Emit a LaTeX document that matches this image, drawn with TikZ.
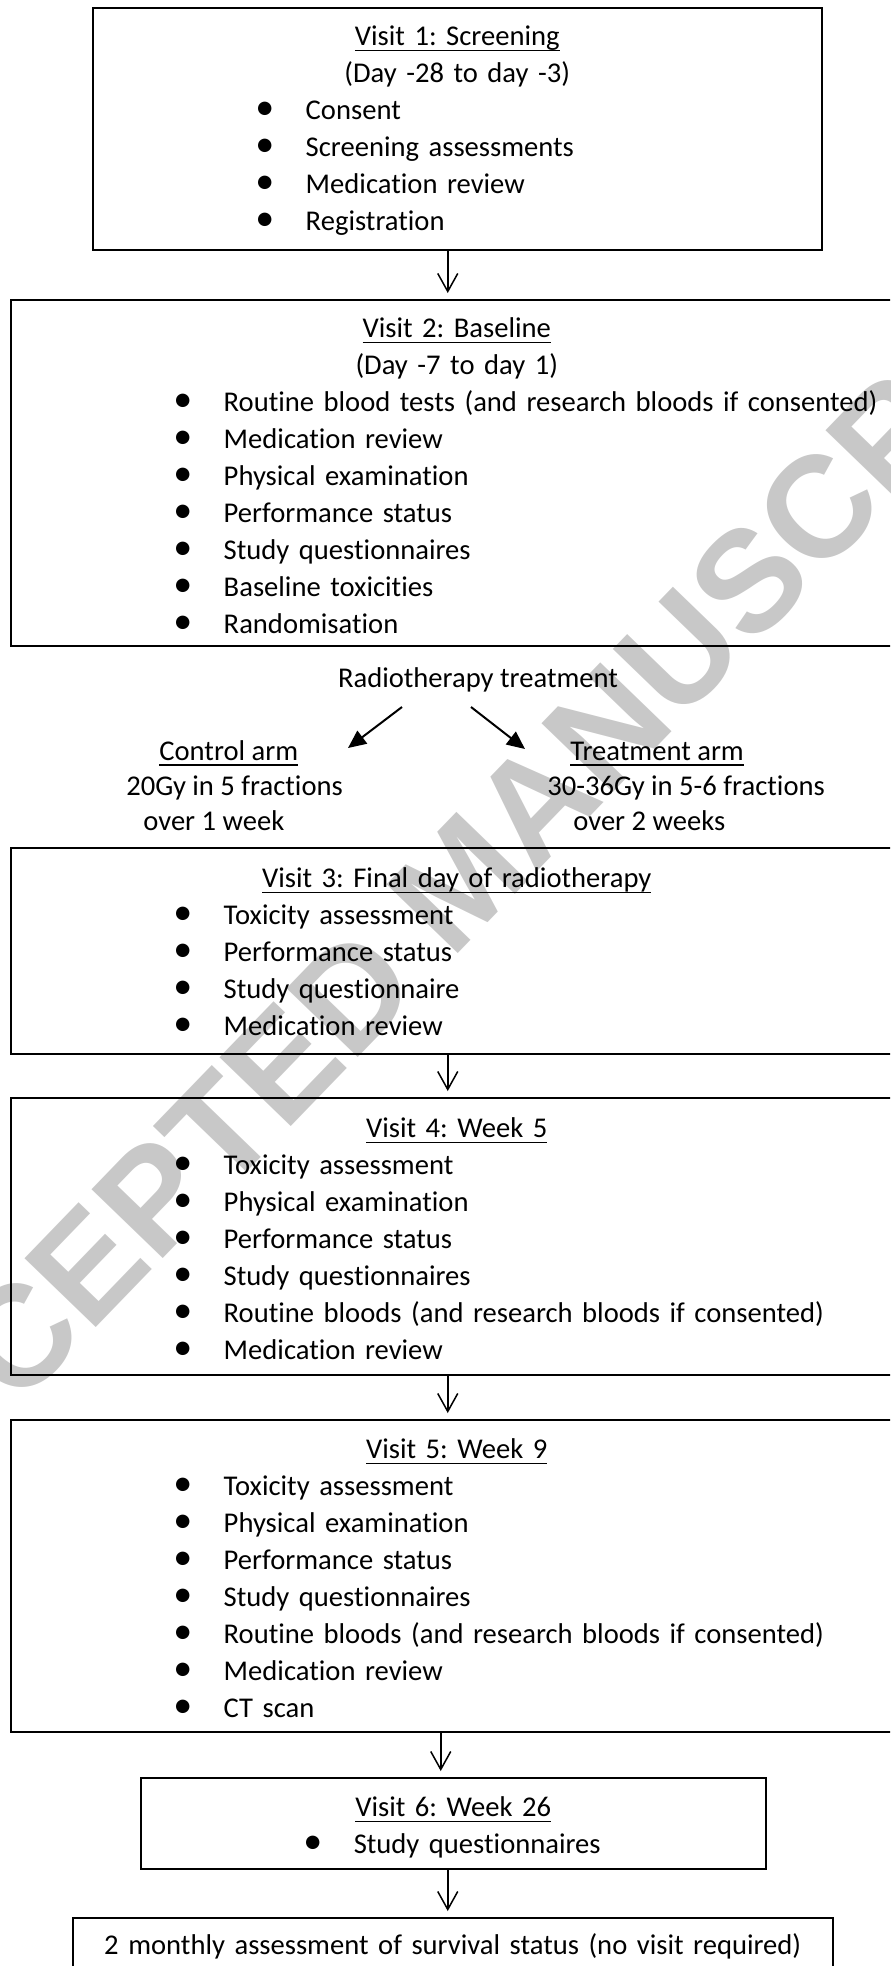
\documentclass[tikz,border=0pt]{standalone}
\usepackage{fontspec}
\setmainfont{Carlito}[Ligatures=NoCommon]
\newfontfamily\wmfont{Liberation Sans}
\usetikzlibrary{arrows.meta}
\usetikzlibrary{positioning}
\usetikzlibrary{calc}
\frenchspacing

\definecolor{wmgray}{RGB}{200,200,200}
\newcommand\undl[1]{\sbox0{#1}\rlap{\rule[-2.8pt]{\wd0}{0.65pt}}\usebox0}
\newcommand\ctr[1]{\makebox[\linewidth]{#1}}
\newcommand\ttl[1]{\ctr{\undl{#1}}}
\newcommand\itm[1]{\hspace*{86pt}\makebox[0pt]{\fontsize{19pt}{0pt}\selectfont\textbullet}\hspace*{20.5pt}#1}

\tikzset{
  visit/.style={draw, line width=0.75pt, inner sep=0pt, anchor=north west, align=left,
    font=\fontsize{14.3pt}{18.5pt}\selectfont},
  arm/.style={inner sep=0pt, anchor=base west, align=left,
    font=\fontsize{14.3pt}{17.5pt}\selectfont},
  plain/.style={inner sep=0pt, anchor=base, font=\fontsize{14.3pt}{17.5pt}\selectfont},
  flow/.style={line width=0.75pt, shorten >=3pt,
    -{Straight Barb[length=9pt,width=10pt,line width=0.75pt]}},
  split/.style={line width=1pt, -{Triangle[length=9pt,width=8pt]}},
  wm/.style={text=wmgray, inner sep=0pt, rotate=46,
    font=\wmfont\bfseries\fontsize{72pt}{72pt}\selectfont}
}

\begin{document}
\begin{tikzpicture}[x=0.5pt,y=-0.5pt]
   \path[use as bounding box] (0,0) rectangle (890,1966);
   \clip (0,0) rectangle (890,1966);
   \node[wm] (wmark) at (460,880) {ACCEPTED MANUSCRIPT};

   \node[visit, text width=364.5pt, text height=19pt, text depth=102pt] (v1) at (92,7) {%
     \ttl{Visit 1: Screening}\\
     \ctr{(Day -28 to day -3)}\\
     \itm{Consent}\\
     \itm{Screening assessments}\\
     \itm{Medication review}\\
     \itm{Registration}};
   \node[visit, text width=446pt, text height=19pt, text depth=154pt] (v2) at (10,299) {%
     \ttl{Visit 2: Baseline}\\
     \ctr{(Day -7 to day 1)}\\
     \itm{Routine blood tests (and research bloods if consented)}\\
     \itm{Medication review}\\
     \itm{Physical examination}\\
     \itm{Performance status}\\
     \itm{Study questionnaires}\\
     \itm{Baseline toxicities}\\
     \itm{Randomisation}};

   \node[plain] (rt) at (478,687) {Radiotherapy treatment};
   \coordinate (l0) at (402,707);
   \coordinate (l1) at (348,748);
   \coordinate (r0) at (471,707);
   \coordinate (r1) at (525,749);
   \node[arm] (ctl) at (126,830) {%
     \hspace*{16.5pt}\undl{Control arm}\\
     20Gy in 5 fractions\\
     \hspace*{8.5pt}over 1 week};
   \node[arm] (trt) at (547,830) {%
     \hspace*{11.5pt}\undl{Treatment arm}\\
     30-36Gy in 5-6 fractions\\
     \hspace*{13pt}over 2 weeks};

   \node[visit, text width=446pt, text height=20pt, text depth=83pt] (v3) at (10,847) {%
     \ttl{Visit 3: Final day of radiotherapy}\\
     \itm{Toxicity assessment}\\
     \itm{Performance status}\\
     \itm{Study questionnaire}\\
     \itm{Medication review}};
   \node[visit, text width=446pt, text height=20pt, text depth=118.5pt] (v4) at (10,1097) {%
     \ttl{Visit 4: Week 5}\\
     \itm{Toxicity assessment}\\
     \itm{Physical examination}\\
     \itm{Performance status}\\
     \itm{Study questionnaires}\\
     \itm{Routine bloods (and research bloods if consented)}\\
     \itm{Medication review}};
   \node[visit, text width=446pt, text height=19.5pt, text depth=136.5pt] (v5) at (10,1419) {%
     \ttl{Visit 5: Week 9}\\
     \itm{Toxicity assessment}\\
     \itm{Physical examination}\\
     \itm{Performance status}\\
     \itm{Study questionnaires}\\
     \itm{Routine bloods (and research bloods if consented)}\\
     \itm{Medication review}\\
     \itm{CT scan}};
   \node[visit, text width=312.5pt, text height=19.5pt, text depth=26pt] (v6) at (140,1777) {%
     \ttl{Visit 6: Week 26}\\
     \itm{Study questionnaires}};
   \node[visit, text width=380pt, text height=18.5pt, text depth=20pt] (v7) at (72,1917) {%
     \ctr{2 monthly assessment of survival status (no visit required)}};

   \draw[flow] ([xshift=-4.75pt]v1.south) -- ([xshift=-4.75pt]v1.south |- v2.north);
   \draw[split] (l0) -- (l1);
   \draw[split] (r0) -- (r1);
   \draw[flow] ([xshift=-4.5pt]v3.south) -- ([xshift=-4.5pt]v3.south |- v4.north);
   \draw[flow] ([xshift=-4.5pt]v4.south) -- ([xshift=-4.5pt]v4.south |- v5.north);
   \draw[flow] ([xshift=-8pt]v5.south) -- ([xshift=-8pt]v5.south |- v6.north);
   \draw[flow] ([xshift=-2.75pt]v6.south) -- ([xshift=-2.75pt]v6.south |- v7.north);
\end{tikzpicture}
\end{document}
